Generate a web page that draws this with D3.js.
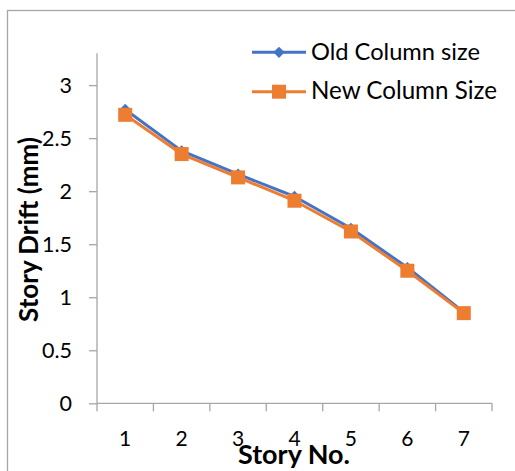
<!DOCTYPE html>
<html><head><meta charset="utf-8">
<script src="https://cdn.jsdelivr.net/npm/d3@7/dist/d3.min.js"></script>
<style>html,body{margin:0;padding:0;background:#fff;overflow:hidden}</style>
</head><body>
<svg id="c" width="515" height="471"></svg>
<script>
const stories = [1, 2, 3, 4, 5, 6, 7];
const oldColumn = [2.77, 2.38, 2.16, 1.95, 1.65, 1.28, 0.86];
const newColumn = [2.72, 2.35, 2.13, 1.91, 1.62, 1.25, 0.85];
const yTicks = [0, 0.5, 1, 1.5, 2, 2.5, 3];
const seriesNames = ["Old Column size", "New Column Size"];
const xTitle = "Story No.";
const yTitle = "Story Drift (mm)";

(function () {
const svg = d3.select("#c");
const FONT = "Lato, 'Noto Sans', sans-serif";
const BLUE = "#4472C4", ORANGE = "#ED7D31", GRID = "#a6a6a6";

// chart border
svg.append("rect").attr("x", 7.5).attr("y", 10.5).attr("width", 600).attr("height", 600)
  .attr("fill", "none").attr("stroke", GRID).attr("stroke-width", 1.3);

const pLeft = 97, pRight = 492, pTop = 53.3, pBottom = 403.3;
const x = d3.scaleBand().domain(stories).range([pLeft, pRight]).padding(0);
const y = d3.scaleLinear().domain([0, 3.3]).range([pBottom, pTop]);

function fit(t, w) {
  const n = t.node();
  const fs = parseFloat(t.attr("font-size"));
  const len = n.getComputedTextLength();
  if (len > 0) t.attr("font-size", (fs * w / len).toFixed(2));
}

// y axis
const yAxis = svg.append("g").attr("transform", `translate(${pLeft},0)`)
  .call(d3.axisLeft(y).tickValues(yTicks).tickSize(8).tickFormat(d3.format("")));
yAxis.select(".domain").attr("stroke", GRID).attr("stroke-width", 1.3)
  .attr("d", `M0,${pBottom}V${pTop}`);
yAxis.selectAll(".tick line").attr("stroke", GRID).attr("stroke-width", 1.3);
yAxis.selectAll(".tick text").attr("font-family", FONT).attr("font-size", 21.5)
  .attr("fill", "#000").attr("x", -25).attr("dy", "0.35em");

// x axis
const xAxis = svg.append("g").attr("transform", `translate(0,${pBottom})`)
  .call(d3.axisBottom(x).tickSize(0));
xAxis.select(".domain").attr("stroke", GRID).attr("stroke-width", 1.3).attr("d", `M${pLeft},0H${pRight}`);
xAxis.selectAll(".tick text").attr("font-family", FONT).attr("font-size", 21)
  .attr("fill", "#000").attr("y", 42.7).attr("dy", 0);
const bounds = stories.map(s => x(s)).concat([x(stories[stories.length - 1]) + x.bandwidth()]);
xAxis.selectAll(".bt").data(bounds).enter().append("line")
  .attr("x1", d => d).attr("x2", d => d).attr("y1", 0).attr("y2", 8)
  .attr("stroke", GRID).attr("stroke-width", 1.3);

// titles
const xt = svg.append("text").attr("x", 294).attr("y", 463.5).attr("text-anchor", "middle")
  .attr("font-family", FONT).attr("font-weight", "bold").attr("font-size", 22).text(xTitle);
fit(xt, 112);
const yt = svg.append("text").attr("transform", "translate(38,229.5) rotate(-90)")
  .attr("text-anchor", "middle").attr("font-family", FONT).attr("font-weight", "bold")
  .attr("font-size", 22).text(yTitle);
fit(yt, 185);

const cx = d => x(d) + x.bandwidth() / 2;
const line = d3.line().x((d, i) => cx(stories[i])).y(d => y(d));

// old series
svg.append("path").datum(oldColumn).attr("d", line).attr("fill", "none")
  .attr("stroke", BLUE).attr("stroke-width", 3).attr("stroke-linejoin", "round");
svg.selectAll(".od").data(oldColumn).enter().append("path")
  .attr("d", d3.symbol().type(d3.symbolSquare).size(64)).attr("fill", BLUE)
  .attr("transform", (d, i) => `translate(${cx(stories[i])},${y(d)}) rotate(45)`);

// new series
svg.append("path").datum(newColumn).attr("d", line).attr("fill", "none")
  .attr("stroke", ORANGE).attr("stroke-width", 3).attr("stroke-linejoin", "round");
svg.selectAll(".ns").data(newColumn).enter().append("rect")
  .attr("x", (d, i) => cx(stories[i]) - 7).attr("y", d => y(d) - 7)
  .attr("width", 14).attr("height", 14).attr("fill", ORANGE);

// legend
const leg = [
  {name: seriesNames[0], color: BLUE, ly: 52.3, base: 59.5, w: 169, m: "d"},
  {name: seriesNames[1], color: ORANGE, ly: 91.7, base: 99, w: 186, m: "s"}
];
leg.forEach(l => {
  svg.append("line").attr("x1", 252).attr("x2", 306).attr("y1", l.ly).attr("y2", l.ly)
    .attr("stroke", l.color).attr("stroke-width", 3);
  if (l.m === "d") {
    svg.append("path").attr("d", d3.symbol().type(d3.symbolSquare).size(64))
      .attr("transform", `translate(279,${l.ly}) rotate(45)`).attr("fill", l.color);
  } else {
    svg.append("rect").attr("x", 272).attr("y", l.ly - 7).attr("width", 14).attr("height", 14)
      .attr("fill", l.color);
  }
  const t = svg.append("text").attr("x", 311).attr("y", l.base).attr("font-family", FONT)
    .attr("font-size", 20).attr("fill", "#000").text(l.name);
  fit(t, l.w);
});
})();
</script>
</body></html>
